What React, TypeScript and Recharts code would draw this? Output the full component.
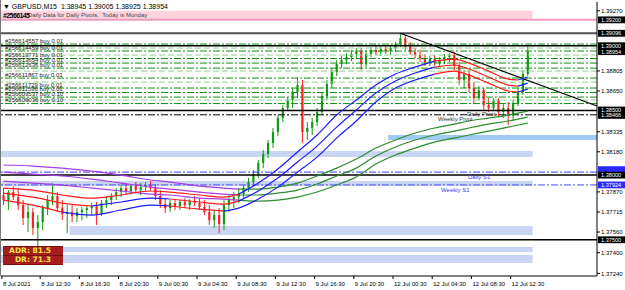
import React from "react";
import {
  ComposedChart,
  XAxis,
  YAxis,
  Bar,
  Line,
  ReferenceLine,
  ReferenceArea,
  ReferenceDot,
} from "recharts";

const opens = [
  1.37846, 1.37807, 1.37869, 1.3783, 1.37768, 1.37668, 1.37714, 1.37591, 1.37637, 1.37745,
  1.37807, 1.37838, 1.37745, 1.37699, 1.37714, 1.37683, 1.37714, 1.3773, 1.37745, 1.37761,
  1.37699, 1.37784, 1.37807, 1.37838, 1.37869, 1.379, 1.37877, 1.37915, 1.37884, 1.37907,
  1.37923, 1.379, 1.37838, 1.37776, 1.37745, 1.37784, 1.37761, 1.37792, 1.37768, 1.37799,
  1.37784, 1.37753, 1.37714, 1.37652, 1.37691, 1.37622, 1.37768, 1.37807, 1.3783, 1.37853,
  1.379, 1.37946, 1.38008, 1.38093, 1.38163, 1.38248, 1.38333, 1.38441, 1.38518, 1.3858,
  1.38642, 1.38696, 1.38333, 1.38364, 1.3841, 1.38487, 1.38611, 1.38704, 1.38797, 1.38858,
  1.38889, 1.38912, 1.38936, 1.38959, 1.38858, 1.38936, 1.38967, 1.38951, 1.38974, 1.38959,
  1.38982, 1.39013, 1.39059, 1.38997, 1.38951, 1.38928, 1.38905, 1.38874, 1.38897, 1.38866,
  1.38889, 1.38912, 1.38928, 1.38843, 1.38735, 1.38781, 1.38673, 1.38595, 1.38657, 1.38541,
  1.38518, 1.3858, 1.38487, 1.38518, 1.38464, 1.38557, 1.38642, 1.38781,
];
const highs = [
  1.379, 1.37884, 1.37915, 1.379, 1.37807, 1.37768, 1.37745, 1.37691, 1.37768, 1.37846,
  1.37938, 1.37869, 1.37807, 1.37768, 1.37768, 1.37745, 1.37753, 1.37768, 1.37784, 1.37792,
  1.37807, 1.37838, 1.37861, 1.379, 1.37931, 1.37938, 1.37931, 1.37946, 1.37938, 1.37946,
  1.37954, 1.37931, 1.37884, 1.37822, 1.37807, 1.37815, 1.37807, 1.37822, 1.37815, 1.37838,
  1.37822, 1.37807, 1.37768, 1.3773, 1.37745, 1.37807, 1.37846, 1.37869, 1.379, 1.37923,
  1.37977, 1.38039, 1.38116, 1.38194, 1.38271, 1.38364, 1.38464, 1.38541, 1.38603, 1.38673,
  1.38758, 1.38735, 1.3841, 1.38441, 1.38518, 1.38642, 1.38735, 1.38827, 1.38889, 1.3892,
  1.38943, 1.38967, 1.38982, 1.38982, 1.38967, 1.3899, 1.38997, 1.38997, 1.39005, 1.38997,
  1.39028, 1.39096, 1.39082, 1.39028, 1.38982, 1.38967, 1.38936, 1.3892, 1.38928, 1.38912,
  1.38936, 1.38943, 1.38951, 1.38874, 1.38812, 1.38812, 1.38719, 1.38688, 1.38673, 1.38595,
  1.38595, 1.38595, 1.38549, 1.38565, 1.3858, 1.38673, 1.38812, 1.39005,
];
const lows = [
  1.37768, 1.3773, 1.37807, 1.3773, 1.37614, 1.3756, 1.37536, 1.37421, 1.37575, 1.37691,
  1.37768, 1.37714, 1.37652, 1.37552, 1.37637, 1.37637, 1.37652, 1.37668, 1.37691, 1.37614,
  1.37683, 1.37745, 1.37768, 1.37807, 1.3783, 1.37846, 1.37853, 1.37861, 1.37846, 1.37869,
  1.37884, 1.37807, 1.37745, 1.37706, 1.37714, 1.3773, 1.3773, 1.37745, 1.3773, 1.37761,
  1.3773, 1.37691, 1.37614, 1.37591, 1.37552, 1.37575, 1.37714, 1.37745, 1.37784, 1.37822,
  1.37869, 1.37915, 1.37977, 1.38054, 1.38132, 1.38209, 1.38302, 1.3841, 1.38503, 1.38518,
  1.38595, 1.38248, 1.38271, 1.3831, 1.38379, 1.38464, 1.3858, 1.38673, 1.38766, 1.38827,
  1.38858, 1.38881, 1.38905, 1.38812, 1.38835, 1.38912, 1.38928, 1.3892, 1.38936, 1.38928,
  1.38951, 1.3899, 1.38967, 1.38928, 1.38905, 1.38874, 1.38843, 1.38843, 1.38843, 1.38835,
  1.38858, 1.38874, 1.38812, 1.38696, 1.38673, 1.38642, 1.38557, 1.3858, 1.38503, 1.38487,
  1.38503, 1.38449, 1.38441, 1.38387, 1.38425, 1.38534, 1.38619, 1.38766,
];
const closes = [
  1.37807, 1.37869, 1.3783, 1.37768, 1.37668, 1.37714, 1.37591, 1.37637, 1.37745, 1.37807,
  1.37838, 1.37745, 1.37699, 1.37714, 1.37683, 1.37714, 1.3773, 1.37745, 1.37761, 1.37699,
  1.37784, 1.37807, 1.37838, 1.37869, 1.379, 1.37877, 1.37915, 1.37884, 1.37907, 1.37923,
  1.379, 1.37838, 1.37776, 1.37745, 1.37784, 1.37761, 1.37792, 1.37768, 1.37799, 1.37784,
  1.37753, 1.37714, 1.37652, 1.37691, 1.37622, 1.37768, 1.37807, 1.3783, 1.37853, 1.379,
  1.37946, 1.38008, 1.38093, 1.38163, 1.38248, 1.38333, 1.38441, 1.38518, 1.3858, 1.38642,
  1.38696, 1.38333, 1.38364, 1.3841, 1.38487, 1.38611, 1.38704, 1.38797, 1.38858, 1.38889,
  1.38912, 1.38936, 1.38959, 1.38858, 1.38936, 1.38967, 1.38951, 1.38974, 1.38959, 1.38982,
  1.39013, 1.39059, 1.38997, 1.38951, 1.38928, 1.38905, 1.38874, 1.38897, 1.38866, 1.38889,
  1.38912, 1.38928, 1.38843, 1.38735, 1.38781, 1.38673, 1.38595, 1.38657, 1.38541, 1.38518,
  1.3858, 1.38487, 1.38518, 1.38464, 1.38557, 1.38642, 1.38781, 1.38954,
];

// moving average envelopes, read at these bar numbers
const maIdx = [0, 6, 12, 18, 24, 30, 34, 40, 45, 48, 52, 56, 60, 64, 68, 72, 76, 80, 84, 88, 92, 95, 99, 103, 105, 107];
const fastUpper = [
  1.379, 1.37884, 1.37846, 1.37822, 1.37846, 1.37877, 1.37869, 1.37846, 1.3783, 1.37853, 1.37938, 1.38047, 1.38178,
  1.3831, 1.38464, 1.3858, 1.38696, 1.38781, 1.38835, 1.38881, 1.38897, 1.38866, 1.38804, 1.38742, 1.38735, 1.38758,
];
const fastMid = [
  1.37861, 1.3783, 1.37784, 1.37761, 1.37792, 1.37822, 1.37815, 1.37792, 1.37776, 1.37799, 1.37877, 1.37977, 1.38101,
  1.38224, 1.38371, 1.38503, 1.38634, 1.38727, 1.38789, 1.38835, 1.38851, 1.3882, 1.38758, 1.38696, 1.38688, 1.38711,
];
const fastLower = [
  1.37807, 1.37768, 1.37714, 1.37691, 1.3773, 1.37768, 1.37761, 1.37737, 1.37722, 1.37745, 1.37815, 1.37907, 1.38023,
  1.38139, 1.38286, 1.38418, 1.38565, 1.38673, 1.38735, 1.38781, 1.38804, 1.38773, 1.38711, 1.3865, 1.38642, 1.38665,
];
const slowUpper = [
  1.38078, 1.3807, 1.38054, 1.38031, 1.38, 1.37962, 1.37946, 1.37915, 1.379, 1.37892, 1.37892, 1.37907, 1.37938,
  1.37993, 1.38054, 1.38124, 1.38209, 1.38271, 1.38325, 1.38364, 1.38394, 1.38418, 1.38441, 1.38464, 1.38479, 1.38495,
];
const slowMid = [
  1.38023, 1.38008, 1.37993, 1.37969, 1.37938, 1.37907, 1.37892, 1.37869, 1.37853, 1.37846, 1.37846, 1.37861, 1.37884,
  1.37931, 1.37993, 1.38054, 1.38147, 1.38217, 1.38271, 1.3831, 1.3834, 1.38364, 1.38394, 1.38418, 1.38433, 1.38449,
];
const slowLower = [
  1.37954, 1.37938, 1.37923, 1.379, 1.37877, 1.37853, 1.37846, 1.37822, 1.37815, 1.37807, 1.37799, 1.37807, 1.3783,
  1.37869, 1.37923, 1.37985, 1.38085, 1.38155, 1.38209, 1.38255, 1.38286, 1.3831, 1.3834, 1.38371, 1.38387, 1.38402,
];

// open orders
const orderTickets = [
  "#256614557", "#256614459", "#256613771", "#256613654", "#256612636",
  "#256611867", "#256611729", "#256611536", "#256609537", "#256609036",
];
const orderLots = ["0.01", "0.01", "0.01", "0.01", "0.01", "0.01", "0.01", "0.01", "0.10", "0.10"];
const orderPrices = [1.39013, 1.38959, 1.38901, 1.38866, 1.38827, 1.3875, 1.38673, 1.38638, 1.38603, 1.38553];
const targetPrices = [1.38982, 1.38928, 1.38804, 1.38719, 1.3858];

const dailyPivot = 1.38466;
const weeklyPivot = 1.3843;
const dailyS1 = 1.38023;
const weeklyS1 = 1.37924;

const timeTicks = [0.2, 8, 16, 24, 32, 40, 48, 56, 64, 72, 80, 88, 96, 104];
const timeLabels = [
  "8 Jul 2021", "8 Jul 12:30", "8 Jul 16:30", "8 Jul 20:30", "9 Jul 00:30", "9 Jul 04:30", "9 Jul 08:30",
  "9 Jul 12:30", "9 Jul 16:30", "9 Jul 20:30", "12 Jul 00:30", "12 Jul 04:30", "12 Jul 08:30", "12 Jul 12:30",
];
const priceTicks = [1.3927, 1.38805, 1.3865, 1.38335, 1.3818, 1.3787, 1.37715, 1.3756, 1.374, 1.3724];

const Y_MIN = 1.3722;
const Y_MAX = 1.39338;
const X_MAX = 121.63;
const LAST_BAR = 108.5;

const RED = "#ff1a1a";
const BLUE = "#1c1cff";
const PURPLE = "#a63ce2";
const MA_GREEN = "#2b8d2b";
const BULL = "#129a12";
const BEAR = "#ff1f1f";
const ZONE = "#c9d5f3";
const FONT = "'Liberation Sans', Arial, sans-serif";

const candles = opens.map((o, i) => ({
  t: i + 0.5,
  o,
  h: highs[i],
  l: lows[i],
  c: closes[i],
  hl: [lows[i], highs[i]],
}));

type Range = [number, number, string];
const fastUpperColors: Range[] = [[0, 9, RED], [9, 19, BLUE], [19, 24, RED], [24, 25, BLUE]];
const fastMidColors: Range[] = [[0, 3, RED], [3, 6, BLUE], [6, 9, RED], [9, 19, BLUE], [19, 24, RED], [24, 25, BLUE]];
const fastLowerColors: Range[] = [[0, 2, RED], [2, 6, BLUE], [6, 8, RED], [8, 19, BLUE], [19, 24, RED], [24, 25, BLUE]];
const slowColors: Range[] = [[0, 9, PURPLE], [9, 25, MA_GREEN]];

function segments(values: number[], ranges: Range[]) {
  return ranges.map(([a, b, color]) => ({
    color,
    data: maIdx.slice(a, b + 1).map((idx, k) => ({ t: idx + 0.5, v: values[a + k] })),
  }));
}

const maLines = [
  ...segments(slowUpper, slowColors),
  ...segments(slowMid, slowColors),
  ...segments(slowLower, slowColors),
  ...segments(fastUpper, fastUpperColors),
  ...segments(fastMid, fastMidColors),
  ...segments(fastLower, fastLowerColors),
];

function Candle(props: any) {
  const { x, y, width, height, payload } = props;
  if (payload == null || x == null || y == null) return null;
  const top = Math.min(y, y + height);
  const bot = Math.max(y, y + height);
  const span = payload.h - payload.l || 1;
  const py = (p: number) => top + ((payload.h - p) / span) * (bot - top);
  const col = payload.c >= payload.o ? BULL : BEAR;
  const cx = x + width / 2;
  const b1 = py(Math.max(payload.o, payload.c));
  const b2 = py(Math.min(payload.o, payload.c));
  return (
    <g>
      <line x1={cx} x2={cx} y1={top} y2={bot} stroke={col} strokeWidth={1} />
      <rect x={cx - 1.1} y={b1} width={2.2} height={Math.max(1, b2 - b1)} fill={col} />
    </g>
  );
}

function PriceTag(props: any) {
  const { viewBox, text, bg = "#000", shift = 0 } = props;
  if (!viewBox) return null;
  const x = viewBox.x + viewBox.width;
  const y = viewBox.y + shift;
  return (
    <g>
      <rect x={x + 1} y={y - 3.4} width={27} height={6.8} fill={bg} />
      {text ? (
        <text x={x + 4} y={y + 2} fontSize={5.6} fill="#fff" fontFamily={FONT}>
          {text}
        </text>
      ) : null}
    </g>
  );
}

function OrderLabel(props: any) {
  const { viewBox, text } = props;
  if (!viewBox) return null;
  return (
    <text x={viewBox.x + 4} y={viewBox.y - 1.3} fontSize={6} fill="#222" fontFamily={FONT}>
      {text}
    </text>
  );
}

function NoteLabel(props: any) {
  const { viewBox, text, color, dy } = props;
  if (!viewBox) return null;
  return (
    <text x={viewBox.x + 1} y={viewBox.y + 1 + dy} fontSize={6} fill={color} fontFamily={FONT}>
      {text}
    </text>
  );
}

function TimeTick(props: any) {
  const { x, y, payload } = props;
  const label = timeLabels[timeTicks.indexOf(payload.value)];
  return (
    <g>
      <line x1={x} x2={x} y1={y} y2={y + 3} stroke="#000" />
      <text x={x + 1} y={y + 10} fontSize={6} fill="#000" fontFamily={FONT}>
        {label}
      </text>
    </g>
  );
}

export default function App() {
  return (
    <div style={{ position: "fixed", left: 0, top: 0, width: 625, height: 290, background: "#fff" }}>
      <ComposedChart width={625} height={290} data={candles} margin={{ top: 2, right: 0, bottom: 0, left: 1 }}>
        <XAxis
          dataKey="t"
          type="number"
          domain={[0, X_MAX]}
          allowDataOverflow
          ticks={timeTicks}
          interval={0}
          tick={<TimeTick />}
          tickLine={false}
          tickSize={0}
          tickMargin={0}
          height={14}
          axisLine={{ stroke: "#000" }}
        />
        <YAxis
          orientation="right"
          type="number"
          domain={[Y_MIN, Y_MAX]}
          allowDataOverflow
          ticks={priceTicks}
          interval={0}
          width={28}
          tickSize={3}
          tickMargin={1}
          tickFormatter={(v: number) => v.toFixed(5)}
          tick={{ fontSize: 6, fill: "#000", fontFamily: FONT }}
          tickLine={{ stroke: "#000" }}
          axisLine={{ stroke: "#000" }}
        />

        <ReferenceArea x1={0} x2={LAST_BAR} y1={1.39205} y2={1.3927} fill="#ffd3de" fillOpacity={1} stroke="none" />
        <ReferenceArea x1={79} x2={X_MAX} y1={1.38271} y2={1.3831} fill="#9fcbf6" fillOpacity={1} stroke="none" />
        <ReferenceArea x1={0} x2={LAST_BAR} y1={1.38139} y2={1.38186} fill={ZONE} fillOpacity={1} stroke="none" />
        <ReferenceArea x1={0} x2={LAST_BAR} y1={1.37915} y2={1.37954} fill={ZONE} fillOpacity={1} stroke="none" />
        <ReferenceArea x1={14} x2={LAST_BAR} y1={1.37536} y2={1.37606} fill={ZONE} fillOpacity={1} stroke="none" />
        <ReferenceArea x1={0} x2={LAST_BAR} y1={1.37405} y2={1.37444} fill={ZONE} fillOpacity={1} stroke="none" />
        <ReferenceArea x1={0} x2={LAST_BAR} y1={1.3732} y2={1.37382} fill={ZONE} fillOpacity={1} stroke="none" />

        {targetPrices.map((p) => (
          <ReferenceLine key={"tp" + p} y={p} stroke="#8fd48f" strokeDasharray="6 3" strokeWidth={1} />
        ))}
        {orderPrices.map((p, i) => (
          <ReferenceLine
            key={"ord" + i}
            y={p}
            stroke="#109010"
            strokeDasharray="7 2 2 2"
            strokeWidth={1}
            label={<OrderLabel text={`${orderTickets[i]} buy ${orderLots[i]}`} />}
          />
        ))}

        <ReferenceLine y={1.392} stroke="#f29bc0" strokeWidth={2} label={<PriceTag text="1.39200" />} />
        <ReferenceLine y={1.39096} stroke="#505050" strokeWidth={2} label={<PriceTag text="1.39096" />} />
        <ReferenceLine y={1.39} stroke="#000" strokeWidth={1.5} label={<PriceTag text="1.39000" />} />
        <ReferenceLine y={1.38954} stroke="none" label={<PriceTag text="1.38954" />} />
        <ReferenceLine y={1.385} stroke="#000" strokeWidth={1.5} label={<PriceTag text="1.38500" shift={-0.4} />} />
        <ReferenceLine y={dailyPivot} stroke="#000" strokeDasharray="7 2 2 2" strokeWidth={1} label={<PriceTag text="1.38466" shift={0.6} />} />
        <ReferenceLine y={dailyS1} stroke="#3a3aff" strokeDasharray="7 2 2 2" strokeWidth={1} label={<PriceTag bg="#2a2aff" shift={-2.5} />} />
        <ReferenceLine y={1.38} stroke="#000" strokeWidth={1.5} label={<PriceTag text="1.38000" />} />
        <ReferenceLine y={weeklyS1} stroke="#4a4aff" strokeDasharray="7 2 2 2" strokeWidth={1} label={<PriceTag text="1.37924" bg="#2a2aff" />} />
        <ReferenceLine y={1.375} stroke="#000" strokeWidth={1.5} label={<PriceTag text="1.37500" />} />

        <ReferenceLine
          segment={[{ x: 81.5, y: 1.39096 }, { x: X_MAX, y: 1.38534 }]}
          stroke="#000"
          strokeWidth={1.2}
        />

        <Bar dataKey="hl" barSize={3} shape={(p: any) => <Candle {...p} />} isAnimationActive={false} />

        {maLines.map((s, k) => (
          <Line
            key={"ma" + k}
            data={s.data}
            dataKey="v"
            type="monotone"
            stroke={s.color}
            strokeWidth={1.2}
            dot={false}
            activeDot={false}
            isAnimationActive={false}
          />
        ))}

        <ReferenceDot x={95.1} y={dailyPivot} r={1} fill="none" stroke="none" label={<NoteLabel text="Daily Pivot" color="#333" dy={1} />} />
        <ReferenceDot x={89.2} y={weeklyPivot} r={1} fill="none" stroke="none" label={<NoteLabel text="Weekly Pivot" color="#333" dy={2} />} />
        <ReferenceDot x={95.3} y={dailyS1} r={1} fill="none" stroke="none" label={<NoteLabel text="Daily S1" color="#3a3aff" dy={6.6} />} />
        <ReferenceDot x={89.8} y={weeklyS1} r={1} fill="none" stroke="none" label={<NoteLabel text="Weekly S1" color="#3a3aff" dy={7.3} />} />
      </ComposedChart>

      <div style={{ position: "absolute", left: 0, top: 0, width: 1, height: 276, background: "#777" }} />
      <div
        style={{
          position: "absolute",
          left: 3,
          top: 3,
          fontSize: 7,
          lineHeight: "8px",
          fontFamily: FONT,
          color: "#000",
          whiteSpace: "pre",
        }}
      >
        {"\u25BC GBPUSD,M15  1.38945 1.39005 1.38925 1.38954"}
      </div>
      <div
        style={{
          position: "absolute",
          left: 28,
          top: 12,
          fontSize: 6,
          lineHeight: "7px",
          fontFamily: FONT,
          color: "#444",
          whiteSpace: "pre",
        }}
      >
        {"Daily Data for Daily Pivots.  Today is Monday"}
      </div>
      <div
        style={{
          position: "absolute",
          left: 3,
          top: 11.5,
          fontSize: 7,
          lineHeight: "8px",
          fontWeight: "bold",
          fontFamily: FONT,
          color: "#000",
          letterSpacing: -0.6,
        }}
      >
        #2566145
      </div>

      <div
        style={{
          position: "absolute",
          left: 3,
          top: 246,
          width: 60,
          height: 19,
          background: "#7b0e0e",
          fontFamily: "'DejaVu Sans', sans-serif",
          fontWeight: "bold",
          fontSize: 7.5,
          color: "#ffe64a",
        }}
      >
        <div style={{ margin: "1px 0 0", height: 8, lineHeight: "8px", background: "#a51d1d", textAlign: "right", paddingRight: 12 }}>
          ADR: 81.5
        </div>
        <div style={{ margin: "1px 0 0", height: 8, lineHeight: "8px", background: "#a51d1d", textAlign: "right", paddingRight: 12 }}>
          DR: 71.3
        </div>
      </div>
    </div>
  );
}
